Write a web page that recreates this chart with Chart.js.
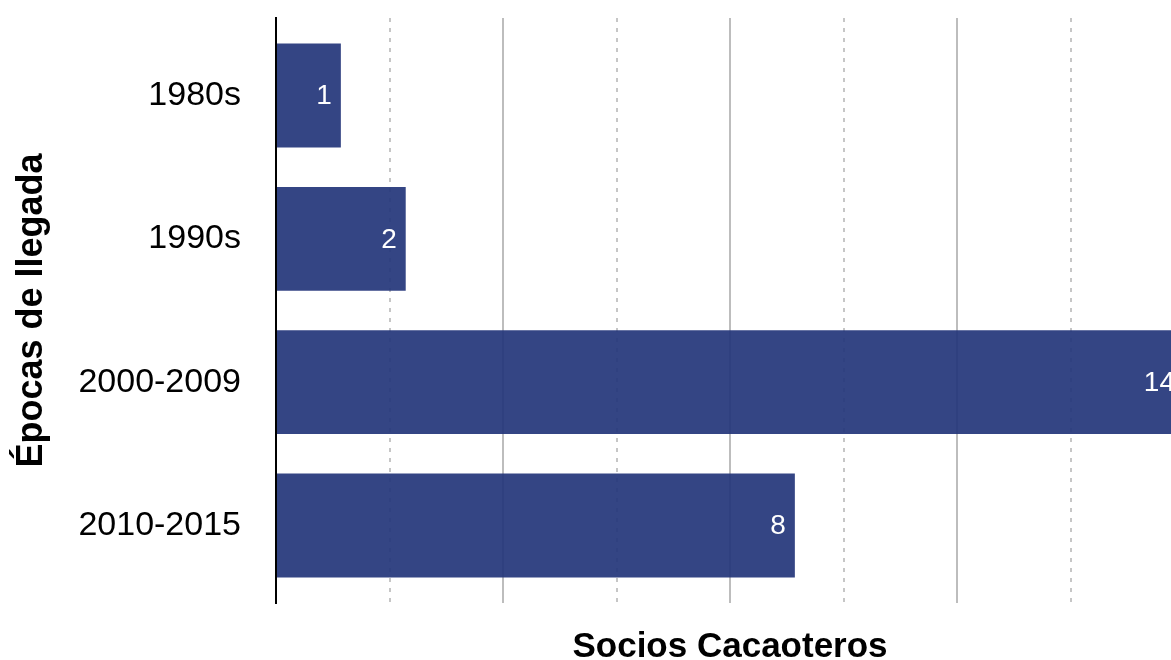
<!DOCTYPE html>
<html>
<head>
<meta charset="utf-8">
<script src="https://cdn.jsdelivr.net/npm/chart.js@4/dist/chart.umd.min.js"></script>
<style>
  html, body { margin: 0; padding: 0; background: #fff; overflow: hidden; }
  /* el área del gráfico sigue un poco más allá del borde derecho, como en la original */
  #wrap { position: relative; width: 1190px; height: 660px; }
</style>
</head>
<body>
<div id="wrap"><canvas id="grafico"></canvas></div>
<script>
// datos
const epocas = ['1980s', '1990s', '2000-2009', '2010-2015'];
const socios = [1, 2, 14, 8];
const xMin = 0;
const xMax = 14;
const xPaso = 1.75;

const tituloX = 'Socios Cacaoteros';
const tituloY = 'Épocas de llegada';

Chart.defaults.font.family = '"Liberation Sans", Arial, Helvetica, sans-serif';
Chart.defaults.color = '#000';

// etiquetas blancas al final de cada barra
const etiquetas = {
    id: 'etiquetas',
    afterDatasetsDraw(chart) {
        const ctx = chart.ctx;
        const meta = chart.getDatasetMeta(0);
        ctx.save();
        ctx.fillStyle = '#fff';
        ctx.font = '28px "Liberation Sans", Arial, sans-serif';
        ctx.textAlign = 'right';
        ctx.textBaseline = 'middle';
        meta.data.forEach(function (barra, i) {
            ctx.fillText(String(socios[i]), barra.x - 9, barra.y + 1);
        });
        ctx.restore();
    }
};

new Chart(document.getElementById('grafico'), {
    type: 'bar',
    data: {
        labels: epocas,
        datasets: [{
            data: socios,
            backgroundColor: 'rgba(35,53,121,0.92)',
            borderWidth: 0,
            barPercentage: 0.725,
            categoryPercentage: 1
        }]
    },
    options: {
        indexAxis: 'y',
        responsive: true,
        maintainAspectRatio: false,
        animation: false,
        layout: {
            padding: { top: 0, right: 6, left: 0, bottom: 0 }
        },
        plugins: {
            legend: { display: false },
            tooltip: { enabled: false }
        },
        scales: {
            x: {
                min: xMin,
                max: xMax,
                ticks: { display: false, stepSize: xPaso },
                grid: {
                    drawTicks: false,
                    lineWidth: 2,
                    color: function (c) {
                        if (c.index === 0) return 'rgba(0,0,0,0)';
                        return c.index % 2 === 1 ? '#c6c6c6' : '#bdbdbd';
                    }
                },
                border: {
                    display: false,
                    dash: function (c) {
                        return c.index % 2 === 1 ? [4, 6] : [];
                    }
                },
                title: {
                    display: true,
                    text: tituloX,
                    font: { size: 35, weight: 'bold', lineHeight: 1 },
                    padding: { top: 0, bottom: -5 }
                },
                afterFit: function (escala) { escala.height = 57; }
            },
            y: {
                // marcas invisibles de 35px para separar las etiquetas del eje
                grid: {
                    display: true,
                    drawOnChartArea: false,
                    drawTicks: true,
                    tickLength: 35,
                    tickColor: 'rgba(0,0,0,0)'
                },
                border: { display: true, color: '#000', width: 2 },
                ticks: {
                    font: { size: 34, lineHeight: 1.06 },
                    padding: 0
                },
                title: {
                    display: true,
                    text: tituloY,
                    font: { size: 36, weight: 'bold', lineHeight: 1 },
                    padding: { top: 14, bottom: 0 }
                },
                // un poco de aire arriba y abajo de las categorías
                afterBuildTicks: function (escala) {
                    const margen = 0.041;
                    escala._startValue = -0.5 - margen;
                    escala._valueRange = epocas.length + 2 * margen;
                },
                afterFit: function (escala) { escala.width = 276; }
            }
        }
    },
    plugins: [etiquetas]
});
</script>
</body>
</html>
